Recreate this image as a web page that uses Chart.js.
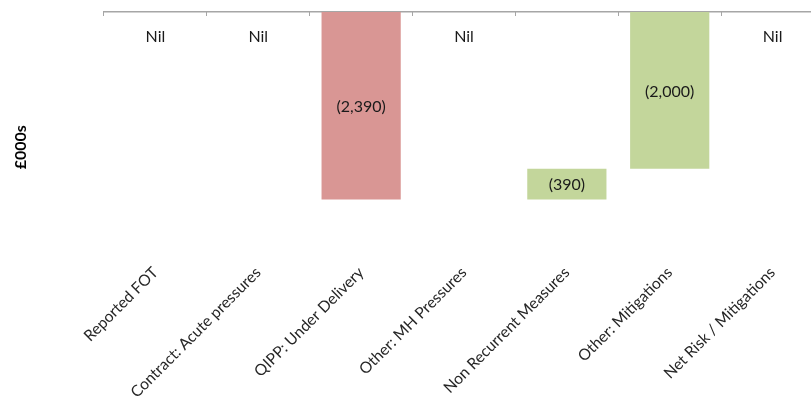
<!DOCTYPE html>
<html>
<head>
<meta charset="utf-8">
<script src="https://cdn.jsdelivr.net/npm/chart.js@4.4.0/dist/chart.umd.min.js"></script>
<style>
  html, body { margin: 0; padding: 0; background: #ffffff; overflow: hidden; width: 811px; height: 401px; }
  #wrap { position: absolute; left: 0; top: 0; width: 830px; height: 401px; }
</style>
</head>
<body>
<div id="wrap"><canvas id="c"></canvas></div>
<script>
// ---- data ----
const categories = [
  'Reported FOT',
  'Contract: Acute pressures',
  'QIPP: Under Delivery',
  'Other: MH Pressures',
  'Non Recurrent Measures',
  'Other: Mitigations',
  'Net Risk / Mitigations'
];
const shownValues = [0, 0, -2390, 0, -390, -2000, 0];   // values printed on the chart (£000s)
const barStarts   = [0, 0, 0, 0, -2390, -2000, 0];      // waterfall bar start
const barEnds     = [0, 0, -2390, 0, -2000, 0, 0];      // waterfall bar end
const axisMin = -3450;
const axisMax = 0;
const yTitle = '£000s';

// ---- helpers ----
const RED = '#D99694';
const GREEN = '#C3D69B';
function fmt(v) {
  if (v === 0) return 'Nil';
  const s = Math.abs(v).toLocaleString('en-GB');
  return v < 0 ? '(' + s + ')' : s;
}
const ranges = categories.map((c, i) => [barStarts[i], barEnds[i]]);

const labelPlugin = {
  id: 'valueLabels',
  afterDatasetsDraw(chart) {
    const ctx = chart.ctx;
    const xs = chart.scales.x, ys = chart.scales.y;
    ctx.save();
    ctx.font = '16px Lato';
    ctx.fillStyle = '#1a1a1a';
    ctx.textAlign = 'center';
    ctx.textBaseline = 'middle';
    shownValues.forEach((v, i) => {
      const x = xs.getPixelForValue(i);
      let y;
      if (barStarts[i] === barEnds[i]) {
        y = ys.getPixelForValue(barStarts[i]) + 25;
      } else {
        y = (ys.getPixelForValue(barStarts[i]) + ys.getPixelForValue(barEnds[i])) / 2 + 1;
      }
      ctx.fillText(fmt(v), x, y);
    });
    ctx.restore();
  }
};

new Chart(document.getElementById('c'), {
  type: 'bar',
  data: {
    labels: categories,
    datasets: [{
      data: ranges,
      backgroundColor: ctx => {
        const i = ctx.dataIndex;
        return barEnds[i] < barStarts[i] ? RED : GREEN;
      },
      borderWidth: 0,
      borderSkipped: false,
      barPercentage: 0.77,
      categoryPercentage: 1.0,
      xAxisID: 'x',
      yAxisID: 'y'
    }]
  },
  options: {
    responsive: true,
    maintainAspectRatio: false,
    animation: false,
    devicePixelRatio: 1,
    layout: { padding: { top: 12, right: 6, bottom: 0, left: 0 } },
    plugins: {
      legend: { display: false },
      tooltip: { enabled: false }
    },
    scales: {
      x: {
        type: 'category',
        position: 'bottom',
        offset: true,
        grid: { display: false, offset: true, drawTicks: false },
        border: { display: false },
        ticks: {
          autoSkip: false,
          minRotation: 45,
          maxRotation: 45,
          mirror: true,
          padding: 12.5,
          color: '#262626',
          font: { family: 'Lato', size: 15.6, lineHeight: 0 }
        },
        afterFit: s => { s.height = 118.5; }
      },
      x2: {
        type: 'category',
        position: 'top',
        axis: 'x',
        labels: categories,
        offset: true,
        grid: { display: true, offset: true, drawOnChartArea: false, drawTicks: true, tickLength: -4, color: '#A6A6A6', lineWidth: 1 },
        border: { display: true, color: '#A6A6A6', width: 1.5 },
        ticks: { display: false },
        afterFit: s => { s.height = 0; }
      },
      y: {
        type: 'linear',
        position: 'left',
        min: axisMin,
        max: axisMax,
        grid: { display: false },
        border: { display: false },
        ticks: { display: false },
        title: {
          display: true,
          text: yTitle,
          color: '#000000',
          font: { family: 'Lato', size: 16, weight: 'bold', lineHeight: 1.2 },
          padding: { top: 11, bottom: 0 }
        },
        afterFit: s => { s.width = 104; }
      }
    }
  },
  plugins: [labelPlugin]
});
</script>
</body>
</html>
